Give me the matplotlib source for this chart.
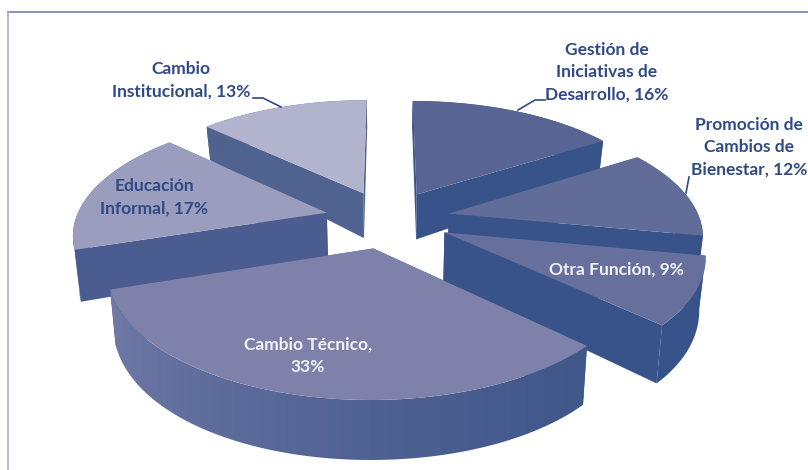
#!/usr/bin/env python3
import numpy as np
import matplotlib
matplotlib.use('Agg')
import matplotlib.pyplot as plt
from matplotlib.colors import to_rgb

# Slices, clockwise from 12 o'clock
names = ['Gestión de\nIniciativas de\nDesarrollo, 16%',
         'Promoción de\nCambios de\nBienestar, 12%',
         'Otra Función, 9%',
         'Cambio Técnico,\n33%',
         'Educación\nInformal, 17%',
         'Cambio\nInstitucional, 13%']
values = [16, 12, 9, 33, 17, 13]

top_colors = ['#586493', '#626c99', '#676f9c', '#7e82aa', '#9a9dbd', '#b2b4cd']
wall_left = ['#37538a', '#37538a', '#37538a', '#737ba8', '#4a5c90', '#50628f']
wall_right = ['#37538a', '#37538a', '#37538a', '#40578a', '#4a5c90', '#50628f']
draw_order = [5, 0, 4, 1, 2, 3]

label_pos = [(607, 72), (749, 147), (616, 270), (308, 356), (154, 197), (181, 80)]
label_colors = ['#2f4a84', '#2f4a84', '#f2f2f7', '#f2f2f7', '#2f4a84', '#2f4a84']
leaders = [[(518, 110), (535, 100), (545, 100)],
           [(686, 193), (689, 177)],
           [(253, 98), (263, 98), (281, 107)]]

# Projection of the tilted pie
cx, cy = 387.5, 219
rx, ry = 251, 116
persp = 0.163
explode = 0.25


def project(x, y):
    f = 1 / (1 + persp * y)
    return cx + rx * x * f, cy - ry * y * f


def drop(px, py):
    # lower face of the slice, thicker towards the viewer
    depth = 60 - 32 * ((400 - py) / 300) ** 2
    return cx + (px - cx) * 0.98, py + depth


fig = plt.figure(figsize=(8.08, 4.70), dpi=100)
ax = fig.add_axes([0, 0, 1, 1])

# Frame, top and left only
ax.plot([8, 808], [12, 12], color='#8b90bb', lw=1.4)
ax.plot([8, 8], [12, 470], color='#a9adcf', lw=1.2)

edges = np.cumsum([0] + values) / sum(values) * 2 * np.pi
for n, i in enumerate(draw_order):
    z = 2 + n * 3
    t = np.linspace(edges[i], edges[i + 1], 80)
    mid = (edges[i] + edges[i + 1]) / 2
    ox, oy = explode * np.sin(mid), explode * np.cos(mid)
    ax_x, ax_y = project(ox, oy)
    rim_x, rim_y = project(ox + np.sin(t), oy + np.cos(t))
    low_x, low_y = drop(rim_x, rim_y)
    apex_lx, apex_ly = drop(ax_x, ax_y)

    # Radial faces
    for j in (0, -1):
        ax.fill([ax_x, rim_x[j], low_x[j], apex_lx],
                [ax_y, rim_y[j], low_y[j], apex_ly],
                facecolor=wall_right[i], edgecolor='none', zorder=z)

    # Outer wall, shaded from left to right
    c0, c1 = np.array(to_rgb(wall_left[i])), np.array(to_rgb(wall_right[i]))
    w = np.linspace(0, 1, 256)[None, :, None] ** 0.6
    shade = c0 + (c1 - c0) * w
    wall = ax.fill(np.r_[rim_x, low_x[::-1]], np.r_[rim_y, low_y[::-1]],
                   facecolor='none', edgecolor='none', zorder=z)[0]
    im = ax.imshow(shade, aspect='auto', interpolation='bilinear', zorder=z + 1,
                   extent=(min(rim_x.min(), low_x.min()), max(rim_x.max(), low_x.max()),
                           max(rim_y.max(), low_y.max()), min(rim_y.min(), low_y.min())))
    im.set_clip_path(wall)

    # Top face
    ax.fill(np.r_[ax_x, rim_x], np.r_[ax_y, rim_y],
            facecolor=top_colors[i], edgecolor='none', zorder=z + 2)

for pts in leaders:
    xs, ys = zip(*pts)
    ax.plot(xs, ys, color='#2f4a84', lw=1.2, zorder=30)

for name, pos, col in zip(names, label_pos, label_colors):
    ax.text(pos[0], pos[1], name, color=col, family='Lato', weight='bold',
            fontsize=12.5, ha='center', va='center', linespacing=1.47, zorder=31)

ax.set_xlim(0, 808)
ax.set_ylim(470, 0)
ax.axis('off')

fig.savefig('out.png', dpi=100)
